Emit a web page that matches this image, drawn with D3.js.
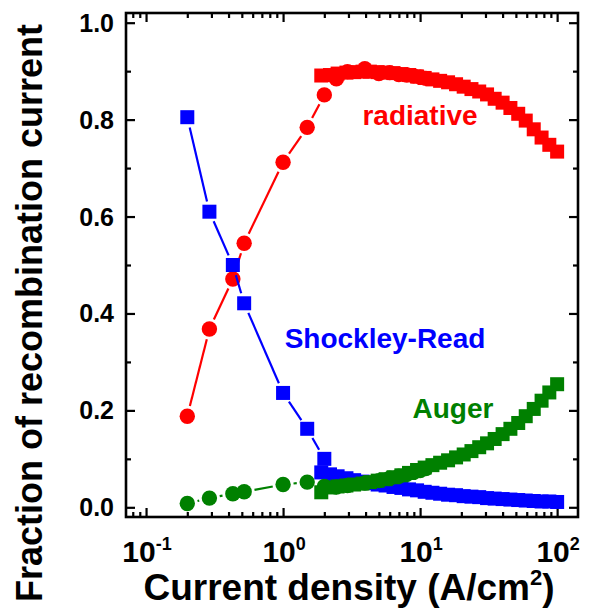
<!DOCTYPE html>
<html>
<head>
<meta charset="utf-8">
<script src="https://cdn.jsdelivr.net/npm/d3@7"></script>
<style>
  body { margin: 0; background: #fff; }
  text { font-family: "Liberation Sans", Arial, sans-serif; font-weight: bold; }
</style>
</head>
<body>
<div id="chart"></div>
<script>
// measured points joined by lines
const xSrh = [0.2, 0.29, 0.43, 0.52, 1.0, 1.5, 2.0];
const srhMeas = [0.805, 0.61, 0.50, 0.421, 0.236, 0.162, 0.10];

const xMeas = [0.2, 0.29, 0.43, 0.52, 1.0, 1.5, 2.0, 2.45, 2.95, 3.95, 5.0, 6.0, 7.0, 8.0, 9.0, 10.0, 11.0];
const radMeas = [0.188, 0.368, 0.471, 0.545, 0.712, 0.784, 0.851, 0.884, 0.899, 0.905, 0.895, 0.897, 0.893, 0.892, 0.890, 0.888, 0.885];
const augMeas = [0.008, 0.019, 0.028, 0.032, 0.047, 0.052, 0.043, 0.042, 0.045, 0.050, 0.055, 0.060, 0.064, 0.068, 0.072, 0.076, 0.080];

// model points (squares, no line)
const xModel = [1.9, 2.2, 2.5, 2.9, 3.3, 3.8, 4.3, 4.9, 5.6, 6.4, 7.3, 8.3, 9.5, 10.8, 12.3, 14, 16, 18.3, 20.8, 23.7, 27, 30.8, 35, 40, 45.6, 52, 59, 67.5, 77, 87.7, 100];
const radModel = [0.891, 0.892, 0.895, 0.897, 0.898, 0.899, 0.899, 0.898, 0.897, 0.896, 0.894, 0.892, 0.889, 0.886, 0.883, 0.880, 0.877, 0.873, 0.868, 0.863, 0.858, 0.852, 0.843, 0.835, 0.824, 0.812, 0.798, 0.780, 0.763, 0.748, 0.734];
const srhModel = [0.072, 0.068, 0.064, 0.060, 0.056, 0.053, 0.050, 0.047, 0.045, 0.042, 0.040, 0.037, 0.035, 0.032, 0.030, 0.028, 0.026, 0.025, 0.023, 0.022, 0.021, 0.019, 0.018, 0.017, 0.016, 0.015, 0.014, 0.013, 0.012, 0.012, 0.011];
const augModel = [0.031, 0.041, 0.043, 0.045, 0.047, 0.049, 0.052, 0.055, 0.058, 0.062, 0.066, 0.071, 0.077, 0.082, 0.087, 0.092, 0.097, 0.103, 0.109, 0.116, 0.124, 0.132, 0.141, 0.151, 0.162, 0.174, 0.188, 0.203, 0.220, 0.237, 0.254];

const yMajor = [0, 0.2, 0.4, 0.6, 0.8, 1.0];
const yMinor = [0.1, 0.3, 0.5, 0.7, 0.9];
const xMajor = [0.1, 1, 10, 100];
const xExp = ["-1", "0", "1", "2"];

const RED = "#ff0000", BLUE = "#0000ff", GREEN = "#008000";

let svg = d3.select("#chart").append("svg")
  .attr("width", 589)
  .attr("height", 609);

let x = d3.scaleLog().domain([0.0714, 142]).range([126, 578]);
let y = d3.scaleLinear().domain([-0.02, 1.02]).range([517, 13]);

// minor ticks on the log axis: 2..9 in every decade inside the domain
let xMinor = [];
[0.01, 0.1, 1, 10, 100].forEach(d => {
  for (let k = 2; k <= 9; k++) {
    let v = d * k;
    if (v > x.domain()[0] && v < x.domain()[1]) xMinor.push(v);
  }
});

// axes, ticks pointing inwards on all four sides
let axes = [
  [() => d3.axisBottom(x), "translate(0,517)", xMajor, xMinor],
  [() => d3.axisTop(x), "translate(0,13)", xMajor, xMinor],
  [() => d3.axisLeft(y), "translate(126,0)", yMajor, yMinor],
  [() => d3.axisRight(y), "translate(578,0)", yMajor, yMinor]
];
axes.forEach(([mk, tr, major, minor]) => {
  [[major, 9], [minor, 5]].forEach(([vals, size]) => {
    let g = svg.append("g")
      .attr("transform", tr)
      .call(mk().tickValues(vals).tickSize(-size).tickSizeOuter(0).tickFormat(""));
    g.select(".domain").remove();
    g.selectAll("line").attr("stroke", "#000").attr("stroke-width", 2.2);
  });
});

svg.append("rect")
  .attr("x", 126).attr("y", 13)
  .attr("width", 452).attr("height", 504)
  .attr("fill", "none")
  .attr("stroke", "#000")
  .attr("stroke-width", 2.6);

// tick labels
svg.append("g").selectAll("text")
  .data(yMajor)
  .enter()
  .append("text")
    .attr("x", 114)
    .attr("y", d => y(d) + 9)
    .attr("text-anchor", "end")
    .attr("font-size", 25)
    .text(d => d.toFixed(1));

let xl = svg.append("g").selectAll("text")
  .data(xMajor)
  .enter()
  .append("text")
    .attr("x", d => x(d) + 1)
    .attr("y", 562)
    .attr("text-anchor", "middle")
    .attr("font-size", 30);
xl.append("tspan").text("10");
xl.append("tspan")
  .attr("font-size", 18)
  .attr("dy", -12)
  .text((d, i) => xExp[i]);

// axis titles
let xt = svg.append("text")
  .attr("x", 349)
  .attr("y", 600)
  .attr("text-anchor", "middle")
  .attr("font-size", 37);
xt.append("tspan").text("Current density (A/cm");
xt.append("tspan").attr("font-size", 22).attr("dy", -15).text("2");
xt.append("tspan").attr("dy", 15).text(")");

svg.append("text")
  .attr("transform", "translate(42,313) rotate(-90)")
  .attr("text-anchor", "middle")
  .attr("font-size", 36)
  .text("Fraction of recombination current");

// model squares
const SQ = 14;
function squares(xs, ys, color) {
  svg.append("g").selectAll("rect")
    .data(xs.map((d, i) => ({x: d, y: ys[i]})))
    .enter()
    .append("rect")
      .attr("x", d => x(d.x) - SQ / 2)
      .attr("y", d => y(d.y) - SQ / 2)
      .attr("width", SQ)
      .attr("height", SQ)
      .attr("fill", color);
}
squares(xModel, radModel, RED);
squares(xModel, srhModel, BLUE);
squares(xModel, augModel, GREEN);

// measured series: lines stop short of each marker
function gapLine(xs, ys, color, gap) {
  let segs = [];
  for (let i = 1; i < xs.length; i++) {
    let x0 = x(xs[i - 1]), y0 = y(ys[i - 1]), x1 = x(xs[i]), y1 = y(ys[i]);
    let len = Math.hypot(x1 - x0, y1 - y0);
    if (len <= 2 * gap) continue;
    let ux = (x1 - x0) / len, uy = (y1 - y0) / len;
    segs.push([x0 + ux * gap, y0 + uy * gap, x1 - ux * gap, y1 - uy * gap]);
  }
  svg.append("g").selectAll("line")
    .data(segs)
    .enter()
    .append("line")
      .attr("x1", d => d[0]).attr("y1", d => d[1])
      .attr("x2", d => d[2]).attr("y2", d => d[3])
      .attr("stroke", color)
      .attr("stroke-width", 2.2);
}
function circles(xs, ys, color) {
  gapLine(xs, ys, color, 10.5);
  svg.append("g").selectAll("circle")
    .data(xs.map((d, i) => ({x: d, y: ys[i]})))
    .enter()
    .append("circle")
      .attr("cx", d => x(d.x))
      .attr("cy", d => y(d.y))
      .attr("r", 7.7)
      .attr("fill", color);
}
circles(xMeas, radMeas, RED);
circles(xMeas, augMeas, GREEN);

gapLine(xSrh, srhMeas, BLUE, 10.5);
squares(xSrh, srhMeas, BLUE);

// series labels
svg.append("text").attr("x", 420).attr("y", 125).attr("text-anchor", "middle")
  .attr("font-size", 28).attr("fill", RED).text("radiative");
svg.append("text").attr("x", 385).attr("y", 348).attr("text-anchor", "middle")
  .attr("font-size", 28).attr("fill", BLUE).text("Shockley-Read");
svg.append("text").attr("x", 453).attr("y", 418).attr("text-anchor", "middle")
  .attr("font-size", 28).attr("fill", GREEN).text("Auger");
</script>
</body>
</html>
